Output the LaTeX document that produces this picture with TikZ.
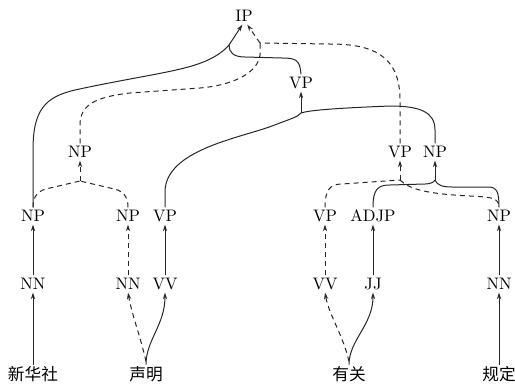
\documentclass[tikz,border=0pt]{standalone}
\usepackage{fontspec}
\newfontfamily\cjkfont{Noto Sans CJK SC}
\usetikzlibrary{arrows.meta}
\begin{document}
\begin{tikzpicture}[x=0.6pt,y=-0.6pt,
  lbl/.style={inner sep=1.5pt,text height=7pt,text depth=0pt},
  word/.style={inner sep=1.5pt,font=\cjkfont,text height=8pt,text depth=1pt},
  edge/.style={line width=0.6pt,black!85},
  dsh/.style={edge,dash pattern=on 3pt off 2.4pt},
  arr/.style={-{Stealth[length=4pt,width=2.6pt]}}]
\useasboundingbox (0,0) rectangle (515,386);
% nodes
\node[lbl] (IP) at (244,16) {IP};
\node[lbl] (VPa) at (301,83) {VP};
\node[lbl] (NPb) at (80,152) {NP};
\node[lbl] (VPc) at (400,152) {VP};
\node[lbl] (NPd) at (435,152) {NP};
\node[lbl] (NP1) at (33,216) {NP};
\node[lbl] (NP2) at (128,216) {NP};
\node[lbl] (VP3) at (165,216) {VP};
\node[lbl] (VP4) at (325,216) {VP};
\node[lbl] (ADJP) at (373,216) {ADJP};
\node[lbl] (NP5) at (499,216) {NP};
\node[lbl] (NN1) at (33,284) {NN};
\node[lbl] (NN2) at (128,284) {NN};
\node[lbl] (VV3) at (165,284) {VV};
\node[lbl] (VV4) at (325,284) {VV};
\node[lbl] (JJ) at (373,284) {JJ};
\node[lbl] (NN5) at (499,284) {NN};
\node[word] (W1) at (33,375) {新华社};
\node[word] (W2) at (146,375) {声明};
\node[word] (W3) at (349,375) {有关};
\node[word] (W4) at (499,375) {规定};
% junctions
\coordinate (j1) at (229,45);
\coordinate (j2) at (260,43);
\coordinate (j3) at (301,113);
\coordinate (j4) at (400,180);
\coordinate (j5) at (435,180);
\coordinate (j6) at (80,181);
% words -> POS
\draw[edge,arr] (W1.north) -- (NN1.south);
\draw[dsh,arr] ([yshift=2pt]W2.north) .. controls (140,335) and (132,315) .. (NN2.south);
\draw[edge,arr] (W2.north) .. controls (146,340) and (165,325) .. (VV3.south);
\draw[dsh,arr] ([yshift=2pt]W3.north) .. controls (343,335) and (329,315) .. (VV4.south);
\draw[edge,arr] (W3.north) .. controls (349,340) and (373,325) .. (JJ.south);
\draw[edge,arr] (W4.north) -- (NN5.south);
% POS -> phrase
\draw[edge,arr] (NN1.north) -- (NP1.south);
\draw[dsh,arr] (NN2.north) -- (NP2.south);
\draw[edge,arr] (VV3.north) -- (VP3.south);
\draw[dsh,arr] (VV4.north) -- (VP4.south);
\draw[edge,arr] (JJ.north) -- (ADJP.south);
\draw[edge,arr] (NN5.north) -- (NP5.south);
% NP <- NP NP (dashed)
\draw[dsh] (NP1.north) .. controls (33,196) and (38,190) .. (50,188) -- (j6);
\draw[dsh] (NP2.north) .. controls (128,196) and (123,190) .. (110,188) -- (j6);
\draw[dsh,arr] (j6) -- (NPb.south);
% VP <- VP NP (dashed)
\draw[dsh] (VP4.north) .. controls (325,190) and (330,184) .. (342,184) -- (j4);
\draw[dsh] (j4) .. controls (410,190) and (430,194) .. (470,196) .. controls (492,197) and (499,198) .. (NP5.north);
\draw[dsh,arr] (j4) -- (VPc.south);
% NP <- ADJP NP (solid)
\draw[edge] (ADJP.north) .. controls (373,189) and (378,185) .. (390,185) -- (425,184) .. controls (431,184) and (434,182) .. (j5);
\draw[edge] (j5) .. controls (437,185) and (442,187) .. (452,187) -- (488,187) .. controls (497,187) and (499,192) .. (NP5.north);
\draw[edge,arr] (j5) -- (NPd.south);
% VP <- VP NP (solid)
\draw[edge] (VP3.north) -- (165,192) .. controls (165,150) and (240,138) .. (272,126) .. controls (290,119) and (298,117) .. (j3);
\draw[edge] (NPd.north) -- (435,130) .. controls (435,112) and (420,106) .. (390,106) .. controls (340,108) and (310,110) .. (j3);
\draw[edge,arr] (j3) -- (VPa.south);
% IP <- NP VP (solid)
\draw[edge] (NP1.north) -- (33,150) .. controls (33,110) and (45,97) .. (75,90) .. controls (130,78) and (170,73) .. (195,65) .. controls (214,59) and (224,51) .. (j1);
\draw[edge] (VPa.north) .. controls (300,60) and (296,58) .. (282,58) -- (245,57) .. controls (233,57) and (229,52) .. (j1);
\draw[edge,arr] (j1) -- ([xshift=-1pt]IP.south);
% IP <- NP VP (dashed)
\draw[dsh] (NPb.north) -- (80,125) .. controls (80,105) and (95,97) .. (130,93) -- (200,88) .. controls (235,85) and (258,72) .. (260,55) -- (j2);
\draw[dsh] (VPc.north) -- (400,100) .. controls (400,55) and (372,44) .. (330,44) -- (j2);
\draw[dsh,arr] (j2) -- ([xshift=2pt]IP.south);
\end{tikzpicture}
\end{document}
